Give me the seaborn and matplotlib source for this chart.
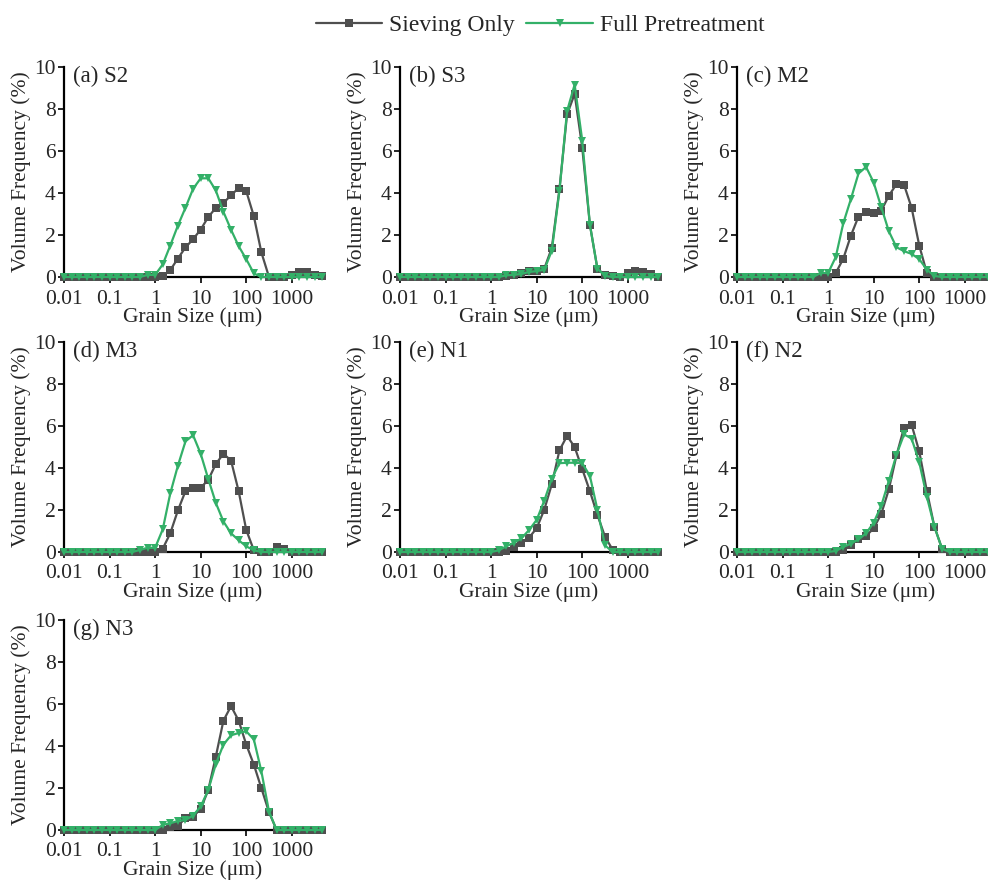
import numpy as np
import pandas as pd
import matplotlib
matplotlib.use("Agg")
import matplotlib.pyplot as plt
import seaborn as sns

# Grain-size bins (µm)
sizes = [0.01, 0.0147, 0.0215, 0.0316, 0.0464, 0.0681, 0.1, 0.147, 0.215, 0.316,
         0.464, 0.681, 1.0, 1.47, 2.15, 3.16, 4.64, 6.81, 10.0, 14.7,
         21.5, 31.6, 46.4, 68.1, 100.0, 147.0, 215.0, 316.0, 464.0, 681.0,
         1000.0, 1470.0, 2150.0, 3160.0, 4640.0]

series_names = ["Sieving Only", "Full Pretreatment"]
panel_titles = ["(a) S2", "(b) S3", "(c) M2", "(d) M3", "(e) N1", "(f) N2", "(g) N3"]

s2_sieve = [0, 0, 0, 0, 0, 0, 0, 0, 0, 0, 0, 0, 0, 0.05, 0.33, 0.88, 1.41, 1.80, 2.26, 2.86,
            3.29, 3.52, 3.90, 4.23, 4.09, 2.89, 1.17, 0, 0, 0, 0.10, 0.25, 0.22, 0.10, 0.03]
s2_full = [0, 0, 0, 0, 0, 0, 0, 0, 0, 0, 0, 0.10, 0.10, 0.60, 1.50, 2.45, 3.30, 4.20, 4.70, 4.70,
           4.12, 3.10, 2.25, 1.47, 0.85, 0.17, 0, 0, 0, 0, 0, 0, 0, 0, 0]
s3_sieve = [0, 0, 0, 0, 0, 0, 0, 0, 0, 0, 0, 0, 0, 0, 0.03, 0.10, 0.19, 0.30, 0.30, 0.40,
            1.39, 4.19, 7.74, 8.72, 6.16, 2.50, 0.40, 0.08, 0.03, 0.02, 0.19, 0.30, 0.24, 0.12, 0.02]
s3_full = [0, 0, 0, 0, 0, 0, 0, 0, 0, 0, 0, 0, 0, 0, 0.08, 0.10, 0.15, 0.24, 0.28, 0.35,
           1.26, 4.10, 7.90, 9.16, 6.50, 2.50, 0.40, 0.05, 0, 0, 0, 0, 0, 0, 0]
m2_sieve = [0, 0, 0, 0, 0, 0, 0, 0, 0, 0, 0, 0, 0, 0.19, 0.87, 1.97, 2.88, 3.08, 3.05, 3.16,
            3.87, 4.42, 4.39, 3.29, 1.50, 0.19, 0, 0, 0, 0, 0, 0, 0, 0, 0]
m2_full = [0, 0, 0, 0, 0, 0, 0, 0, 0, 0, 0, 0.19, 0.19, 0.95, 2.56, 3.71, 4.93, 5.24, 4.50, 3.32,
           2.18, 1.42, 1.23, 1.10, 0.85, 0.35, 0.05, 0, 0, 0, 0, 0, 0, 0, 0]
m3_sieve = [0, 0, 0, 0, 0, 0, 0, 0, 0, 0, 0, 0, 0, 0.16, 0.89, 1.98, 2.90, 3.03, 3.06, 3.44,
            4.19, 4.68, 4.35, 2.90, 1.05, 0.08, 0, 0, 0.24, 0.16, 0, 0, 0, 0, 0]
m3_full = [0, 0, 0, 0, 0, 0, 0, 0, 0, 0, 0.10, 0.20, 0.20, 1.08, 2.79, 4.11, 5.27, 5.56, 4.68, 3.47,
           2.34, 1.45, 0.89, 0.56, 0.27, 0.08, 0, 0, 0, 0, 0, 0, 0, 0, 0]
n1_sieve = [0, 0, 0, 0, 0, 0, 0, 0, 0, 0, 0, 0, 0, 0, 0.05, 0.24, 0.44, 0.69, 1.13, 2.02,
            3.23, 4.84, 5.53, 5.00, 3.95, 2.90, 1.77, 0.73, 0.11, 0, 0, 0, 0, 0, 0]
n1_full = [0, 0, 0, 0, 0, 0, 0, 0, 0, 0, 0, 0, 0, 0.08, 0.27, 0.44, 0.65, 1.05, 1.53, 2.45,
           3.50, 4.23, 4.25, 4.25, 4.23, 3.63, 2.02, 0.32, 0, 0, 0, 0, 0, 0, 0]
n2_sieve = [0, 0, 0, 0, 0, 0, 0, 0, 0, 0, 0, 0, 0, 0, 0.08, 0.35, 0.60, 0.76, 1.13, 1.82,
            2.98, 4.60, 5.92, 6.05, 4.79, 2.90, 1.21, 0.16, 0, 0, 0, 0, 0, 0, 0]
n2_full = [0, 0, 0, 0, 0, 0, 0, 0, 0, 0, 0, 0, 0, 0.05, 0.24, 0.40, 0.60, 0.89, 1.40, 2.21,
           3.39, 4.63, 5.60, 5.40, 4.27, 2.63, 1.21, 0.16, 0, 0, 0, 0, 0, 0, 0]
n3_sieve = [0, 0, 0, 0, 0, 0, 0, 0, 0, 0, 0, 0, 0, 0, 0.16, 0.20, 0.56, 0.64, 1.00, 1.91,
            3.50, 5.21, 5.90, 5.21, 4.07, 3.11, 1.99, 0.85, 0, 0, 0, 0, 0, 0, 0]
n3_full = [0, 0, 0, 0, 0, 0, 0, 0, 0, 0, 0, 0, 0, 0.24, 0.32, 0.43, 0.48, 0.69, 1.12, 1.91,
           3.14, 4.07, 4.51, 4.62, 4.70, 4.31, 2.79, 0.88, 0, 0, 0, 0, 0, 0, 0]

x_tick_vals = [0.01, 0.1, 1, 10, 100, 1000]
x_tick_labels = ["0.01", "0.1", "1", "10", "100", "1000"]
y_tick_vals = [0, 2, 4, 6, 8, 10]

panels = [(s2_sieve, s2_full), (s3_sieve, s3_full), (m2_sieve, m2_full),
          (m3_sieve, m3_full), (n1_sieve, n1_full), (n2_sieve, n2_full),
          (n3_sieve, n3_full)]

sns.set_theme(style="ticks")
plt.rcParams["font.family"] = ["Liberation Serif", "DejaVu Serif"]
plt.rcParams["axes.linewidth"] = 1.6

GRAY = "#4f4f4f"
GREEN = "#33b068"
FS = 15.5

W, H = 988, 885
fig = plt.figure(figsize=(W / 100, H / 100), dpi=100)

col_left = [64, 400, 737]
row_bottom = [277, 552, 830]
ax_w, ax_h = 258, 210

handles = None
for i, (sv, fp) in enumerate(panels):
    assert len(sv) == len(sizes) and len(fp) == len(sizes)
    r, c = divmod(i, 3)
    l = col_left[c] / W
    b = 1 - row_bottom[r] / H
    ax = fig.add_axes([l, b, ax_w / W, ax_h / H])
    df = pd.DataFrame({
        "size": sizes * 2,
        "freq": list(sv) + list(fp),
        "series": [series_names[0]] * len(sizes) + [series_names[1]] * len(sizes),
    })
    sns.lineplot(data=df, x="size", y="freq", hue="series", style="series",
                 markers={series_names[0]: "s", series_names[1]: "v"},
                 dashes=False, palette={series_names[0]: GRAY, series_names[1]: GREEN},
                 markersize=5.5, markeredgewidth=0, linewidth=1.6, ax=ax,
                 legend=(i == 0), clip_on=False, zorder=3)
    if i == 0:
        handles, labels = ax.get_legend_handles_labels()
        ax.get_legend().remove()
    ax.set_xscale("log")
    ax.set_xlim(0.01, 4600)
    ax.set_ylim(0, 10)
    ax.set_xticks(x_tick_vals)
    ax.set_xticklabels(x_tick_labels)
    ax.set_yticks(y_tick_vals)
    ax.tick_params(axis="both", which="major", labelsize=FS, length=4, width=1.2,
                   color="black", direction="out")
    ax.tick_params(axis="x", which="major", pad=5)
    ax.tick_params(axis="y", which="major", pad=2)
    ax.tick_params(axis="x", which="minor", length=2.5, width=0.9, color="black")
    ax.set_xlabel("Grain Size (μm)", fontsize=FS, labelpad=-1)
    ax.set_ylabel("Volume Frequency (%)", fontsize=FS, labelpad=2)
    for sp in ["left", "bottom"]:
        ax.spines[sp].set_color("black")
    sns.despine(ax=ax)
    ax.text(0.035, 1.005, panel_titles[i], transform=ax.transAxes, va="top", ha="left",
            fontsize=16.5)

fig.legend(handles, labels, loc="center", bbox_to_anchor=(540 / W, 1 - 25 / H), ncol=2,
           frameon=False, fontsize=17, handlelength=2.8, handletextpad=0.3,
           columnspacing=0.5)

fig.savefig("out.png", dpi=100)
